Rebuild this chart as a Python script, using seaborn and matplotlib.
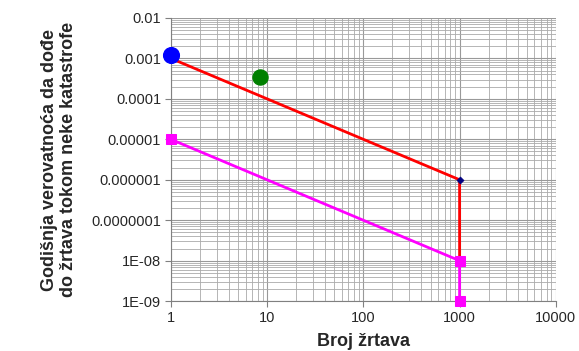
import matplotlib
matplotlib.use("Agg")
import matplotlib.pyplot as plt
import matplotlib.ticker as mticker
import seaborn as sns
import pandas as pd

sns.set_style("white")
plt.rcParams['font.family'] = ['Liberation Sans', 'DejaVu Sans']

red_x = [1, 1000, 1000]
red_y = [1e-3, 1e-6, 1e-8]
mag_x = [1, 1000, 1000]
mag_y = [1e-5, 1e-8, 1e-9]
blue_x = [1]
blue_y = [1.2e-3]
green_x = [8.4]
green_y = [3.4e-4]
navy_x = [1000]
navy_y = [1e-6]

xticks = [1, 10, 100, 1000, 10000]
xlabels = ["1", "10", "100", "1000", "10000"]
yticks = [1e-2, 1e-3, 1e-4, 1e-5, 1e-6, 1e-7, 1e-8, 1e-9]
ylabels = ["0.01", "0.001", "0.0001", "0.00001", "0.000001", "0.0000001", "1E-08", "1E-09"]

fig = plt.figure(figsize=(5.79, 3.51), dpi=100)
ax = fig.add_axes([0.295, 0.142, 0.665, 0.807])
ax.set_xscale('log')
ax.set_yscale('log')

red = pd.DataFrame({"x": red_x, "y": red_y})
mag = pd.DataFrame({"x": mag_x, "y": mag_y})
sns.lineplot(data=red, x="x", y="y", sort=False, estimator=None, color="#ff0000", lw=2, ax=ax, zorder=3)
sns.lineplot(data=mag, x="x", y="y", sort=False, estimator=None, color="#ff00ff", lw=2, ax=ax, zorder=4,
             marker="s", markersize=7, markeredgecolor="#ff00ff", clip_on=False)
sns.scatterplot(x=navy_x, y=navy_y, marker="D", s=14, color="#000080", ax=ax, zorder=5, edgecolor="#000080")
sns.scatterplot(x=blue_x, y=blue_y, s=130, color="#0000ff", ax=ax, zorder=5, edgecolor="#0000ff", clip_on=False)
sns.scatterplot(x=green_x, y=green_y, s=120, color="#008000", ax=ax, zorder=5, edgecolor="#008000")

ax.set_xlim(1, 10000)
ax.set_ylim(1e-9, 1e-2)
ax.xaxis.set_major_locator(mticker.FixedLocator(xticks))
ax.xaxis.set_major_formatter(mticker.FixedFormatter(xlabels))
ax.yaxis.set_major_locator(mticker.FixedLocator(yticks))
ax.yaxis.set_major_formatter(mticker.FixedFormatter(ylabels))
ax.xaxis.set_minor_locator(mticker.LogLocator(base=10, subs=range(2, 10), numticks=20))
ax.yaxis.set_minor_locator(mticker.LogLocator(base=10, subs=range(2, 10), numticks=20))
ax.xaxis.set_minor_formatter(mticker.NullFormatter())
ax.yaxis.set_minor_formatter(mticker.NullFormatter())

ax.grid(True, which='major', color='#999999', lw=0.8)
ax.grid(True, which='minor', color='#aaaaaa', lw=0.6)
ax.set_axisbelow(True)
for s in ['top', 'right']:
    ax.spines[s].set_visible(False)
for s in ['left', 'bottom']:
    ax.spines[s].set_color('#808080')
ax.tick_params(axis='both', which='major', labelsize=10.5, length=4, color='#808080', direction='out', pad=3)
ax.tick_params(axis='both', which='minor', length=0)
ax.tick_params(left=True, bottom=True)

ax.set_xlabel("Broj žrtava", fontsize=13, fontweight='bold', labelpad=6)
ax.set_ylabel("Godišnja verovatnoća da dođe\ndo žrtava tokom neke katastrofe", fontsize=13,
              fontweight='bold', labelpad=10, linespacing=1.2)

fig.savefig("out.png", dpi=100)
